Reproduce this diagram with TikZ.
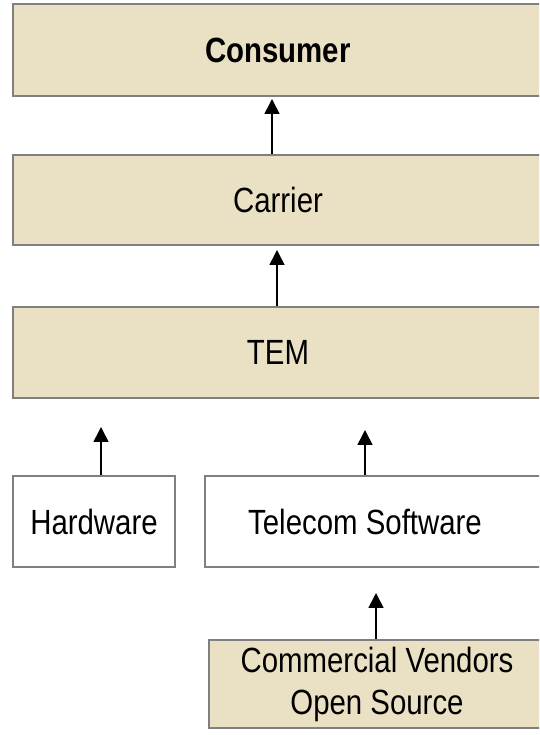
\documentclass[tikz,border=0pt]{standalone}
\usepackage{fontspec}
\setmainfont[FakeStretch=0.84]{Liberation Sans}
\usetikzlibrary{arrows, arrows.meta}

\definecolor{tan}{RGB}{234,225,196}
\definecolor{edge}{RGB}{128,128,128}

\tikzset{
    layer/.style={draw=edge, line width=2pt, fill=tan, inner sep=0pt,
        font=\fontsize{35}{42}\selectfont, align=center},
    plain/.style={layer, fill=white},
    arr/.style={line width=1.6pt, -{Triangle[length=15pt, width=15pt]}}
}

\begin{document}
\begin{tikzpicture}[x=1pt, y=1pt]
\useasboundingbox (0,0) rectangle (539,735);
\clip (0,0) rectangle (539,735);

\node[layer, minimum width=530, minimum height=92] (consumer) at (278,685) {\textbf{Consumer}};
\node[layer, minimum width=530, minimum height=90] (carrier) at (278,535) {Carrier};
\node[layer, minimum width=530, minimum height=91] (tem) at (278,382.5) {TEM};

\node[plain, minimum width=162, minimum height=91] (hardware) at (94,213.5) {Hardware};
\node[plain, minimum width=340, minimum height=91,
    label={[font=\fontsize{35}{42}\selectfont, xshift=-10pt]center:Telecom Software}] (software) at (375,213.5) {};

\node[layer, minimum width=336, minimum height=88] (vendors) at (377,51) {Commercial Vendors\\Open Source};

\draw [arr] ([xshift=-6]carrier.north) --++ (0,55);
\draw [arr] ([xshift=-1]tem.north) --++ (0,56);
\draw [arr] ([xshift=7]hardware.north) --++ (0,48);
\draw [arr] ([xshift=-10]software.north) --++ (0,45);
\draw [arr] ([xshift=-1]vendors.north) --++ (0,46);

\end{tikzpicture}
\end{document}
